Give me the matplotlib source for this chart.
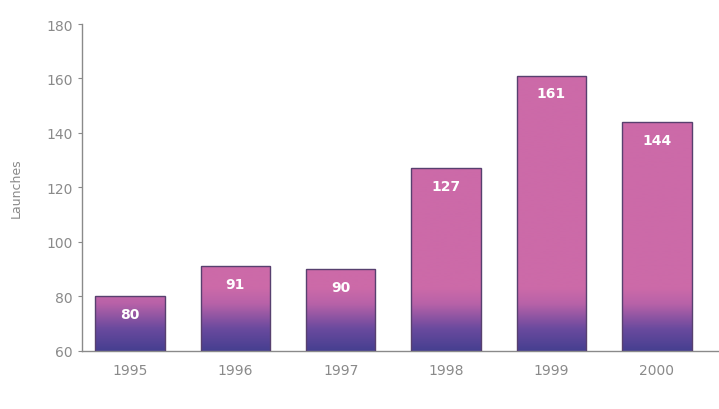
import numpy as np
import matplotlib.pyplot as plt
from matplotlib.colors import LinearSegmentedColormap

# Données
years = ['1995', '1996', '1997', '1998', '1999', '2000']
launches = [80, 91, 90, 127, 161, 144]
y_ticks = [60, 80, 100, 120, 140, 160, 180]

grey = '#8a8a8a'
cmap = LinearSegmentedColormap.from_list(
    'launch', [(0.0, '#463f90'), (0.35, '#6a4a9e'), (0.75, '#b862a8'), (1.0, '#cc6aa8')])

fig = plt.figure(figsize=(7.19, 4.10), dpi=100)
ax = fig.add_axes([0.114, 0.142, 0.886, 0.797])

x = np.arange(len(years))
bars = ax.bar(x, launches, width=0.66, bottom=0, color='none',
              edgecolor='#57406f', linewidth=1.0, zorder=3)

# Dégradé violet -> rose en bas de chaque barre
ys = np.linspace(60, 180, 400)
grad = np.clip((ys - 60) / 23.0, 0, 1)[:, None]
for b in bars:
    im = ax.imshow(grad, cmap=cmap, origin='lower', aspect='auto',
                   extent=(-1, 6, 60, 180), zorder=2, interpolation='bilinear')
    im.set_clip_path(b)

for xi, v in zip(x, launches):
    ax.text(xi, v - 6.5, str(v), ha='center', va='center', color='white',
            fontsize=10, fontweight='semibold', zorder=4)

ax.set_xlim(-0.455, 5.59)
ax.set_ylim(60, 180)
ax.set_yticks(y_ticks)
ax.set_xticks(x)
ax.set_xticklabels(years)
ax.tick_params(axis='y', colors=grey, labelsize=10, length=3, width=0.8)
ax.tick_params(axis='x', colors=grey, labelsize=10, length=0, pad=9)
for side in ['top', 'right']:
    ax.spines[side].set_visible(False)
for side in ['left', 'bottom']:
    ax.spines[side].set_color(grey)
    ax.spines[side].set_linewidth(1.0)
ax.set_ylabel('Launches', color=grey, fontsize=9, labelpad=17)

plt.savefig('out.png', dpi=100)
